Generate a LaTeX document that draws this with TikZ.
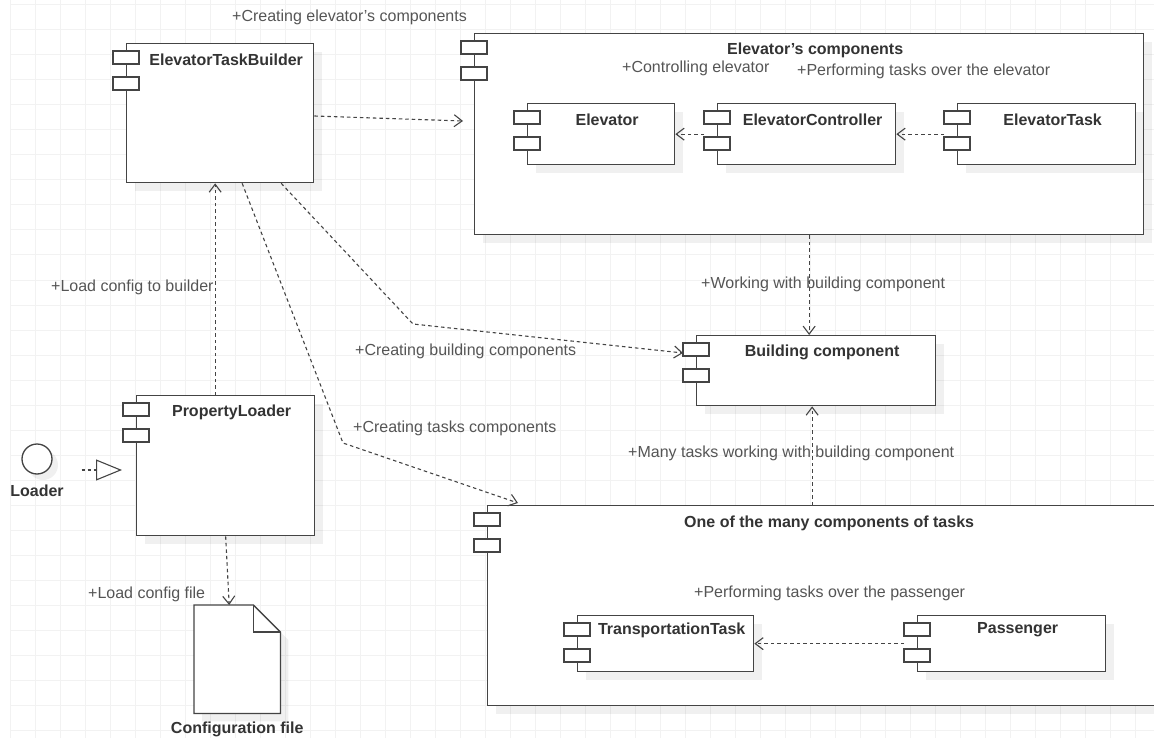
\documentclass[tikz,border=0pt]{standalone}
\usepackage{fontspec}
\setmainfont{Liberation Sans}
\usetikzlibrary{arrows.meta,calc,shadows}

\definecolor{linec}{HTML}{444444}
\definecolor{labelc}{HTML}{555555}
\definecolor{titlec}{HTML}{333333}
\definecolor{gridc}{HTML}{F2F2F2}

\tikzset{
  gridline/.style={draw=gridc, line width=1pt},
  comp/.style={draw=linec, fill=white, line width=1.3pt, anchor=north west, inner sep=0pt,
    drop shadow={shadow xshift=8pt, shadow yshift=-8pt, fill=black, opacity=0.06}},
  ttl/.style={anchor=center, yshift=-17pt, xshift=6pt, inner sep=0pt, text=titlec,
    font=\bfseries\fontsize{16}{19}\selectfont},
  tab/.style={draw=linec, fill=white, line width=1.3pt},
  dep/.style={draw=linec, line width=1.1pt, dash pattern=on 3.5pt off 3pt,
    -{Straight Barb[length=8pt,width=12pt]}},
  real/.style={draw=linec, line width=1.1pt, dash pattern=on 3pt off 3pt,
    -{Triangle[open, length=26pt, width=21pt]}},
  msg/.style={anchor=west, inner sep=0pt, text=labelc, font=\fontsize{16}{19}\selectfont},
  nametxt/.style={inner sep=0pt, text=titlec, font=\bfseries\fontsize{16}{19}\selectfont},
}

\newcommand\comptabs[1]{%
  \draw[tab] ($(#1.north west)+(-13,8)$) rectangle ++(26,13);
  \draw[tab] ($(#1.north west)+(-13,34)$) rectangle ++(26,13);
}

\begin{document}
\begin{tikzpicture}[x=1pt, y=-1pt]
  \useasboundingbox (0,0) rectangle (1154,738);

  % background grid
  \foreach \gx in {10,35,...,1154} {
    \draw[gridline] (\gx,0) -- (\gx,738);
  }
  \foreach \gy in {5,30,...,738} {
    \draw[gridline] (10,\gy) -- (1154,\gy);
  }

  % components
  \node[comp, minimum width=187pt, minimum height=139pt,
    label={[ttl]north:ElevatorTaskBuilder}] (builder) at (126,43) {};
  \comptabs{builder}

  \node[comp, minimum width=669pt, minimum height=201pt,
    label={[ttl]north:Elevator's components}] (elevcomp) at (474,33) {};
  \comptabs{elevcomp}

  \node[comp, minimum width=147pt, minimum height=61pt,
    label={[ttl]north:Elevator}] (elev) at (527,103) {};
  \comptabs{elev}
  \node[comp, minimum width=178pt, minimum height=61pt,
    label={[ttl]north:ElevatorController}] (ctrl) at (717,103) {};
  \comptabs{ctrl}
  \node[comp, minimum width=178pt, minimum height=61pt,
    label={[ttl]north:ElevatorTask}] (task) at (957,103) {};
  \comptabs{task}

  \node[comp, minimum width=239pt, minimum height=70pt,
    label={[ttl]north:Building component}] (building) at (696,335) {};
  \comptabs{building}

  \node[comp, minimum width=178pt, minimum height=140pt,
    label={[ttl]north:PropertyLoader}] (propload) at (136,395) {};
  \comptabs{propload}

  \node[comp, minimum width=671pt, minimum height=200pt,
    label={[ttl, yshift=-1pt]north:One of the many components of tasks}] (tasks) at (487,505) {};
  \comptabs{tasks}

  \node[comp, minimum width=176pt, minimum height=56pt,
    label={[ttl, yshift=2pt]north:TransportationTask}] (transport) at (577,615) {};
  \comptabs{transport}
  \node[comp, minimum width=188pt, minimum height=56pt,
    label={[ttl, yshift=2pt]north:Passenger}] (pass) at (917,615) {};
  \comptabs{pass}

  % interface and file
  \node[circle, draw=linec, fill=white, line width=1.3pt, minimum size=30pt, inner sep=0pt,
    drop shadow={shadow xshift=6pt, shadow yshift=-6pt, fill=black, opacity=0.06}] (loader) at (37,459) {};
  \node[nametxt] (loadername) at (37,491) {Loader};

  \node[inner sep=0pt, minimum width=86pt, minimum height=108pt, anchor=north west] (cfg) at (194,605) {};
  \fill[black, opacity=0.06] ($(cfg.north west)+(8,8)$) -- ($(cfg.north east)+(-19,8)$)
    -- ($(cfg.north east)+(8,35)$) -- ($(cfg.south east)+(8,8)$) -- ($(cfg.south west)+(8,8)$) -- cycle;
  \draw[draw=linec, fill=white, line width=1.3pt] (cfg.north west) -- ($(cfg.north east)+(-27,0)$)
    -- ($(cfg.north east)+(0,27)$) -- (cfg.south east) -- (cfg.south west) -- cycle;
  \draw[draw=linec, line width=1.3pt] ($(cfg.north east)+(-27,0)$) -- ($(cfg.north east)+(-27,27)$)
    -- ($(cfg.north east)+(0,27)$);
  \node[nametxt] (cfgname) at ($(cfg.south)+(0,16)$) {Configuration file};

  % connectors
  \draw[dep] ($(builder.north east)+(0,73)$) -- ($(elevcomp.north west)+(-11,88)$);
  \draw[dep] ($(ctrl.west)+(-13,0)$) -- (elev.east);
  \draw[dep] ($(task.west)+(-13,0)$) -- (ctrl.east);
  \draw[dep] (elevcomp.south) -- (elevcomp.south |- building.north);
  \coordinate (bcin) at ($(building.south)+(-4,0)$);
  \draw[dep] (bcin |- tasks.north) -- (bcin);

  \coordinate (bendb) at (413,324);
  \draw[dep] ($(builder.south)+(61,0)$) -- (bendb) -- ($(building.north west)+(-13,18)$);
  \coordinate (bendt) at (343,443);
  \draw[dep] ($(builder.south)+(22,0)$) -- (bendt) -- ($(tasks.north west)+(31,-2)$);

  \coordinate (plup) at ($(builder.south)+(-5,0)$);
  \draw[dep] (plup |- propload.north) -- (plup);
  \draw[dep] (propload.south) -- ($(cfg.north)+(-8,0)$);

  \coordinate (ldtail) at ($(loader.east)+(29,11)$);
  \draw[real] (ldtail) -- ($(propload.north west)+(-14,75)$);

  \draw[dep] ($(pass.west)+(-13,0)$) -- (transport.east);

  % connector labels
  \node[msg] at (232,17) {+Creating elevator's components};
  \node[msg] at (622,68) {+Controlling elevator};
  \node[msg] at (797,71) {+Performing tasks over the elevator};
  \node[msg] at (701,284) {+Working with building component};
  \node[msg] at (51,287) {+Load config to builder};
  \node[msg] at (355,351) {+Creating building components};
  \node[msg] at (353,428) {+Creating tasks components};
  \node[msg] at (628,453) {+Many tasks working with building component};
  \node[msg] at (88,594) {+Load config file};
  \node[msg] at (694,593) {+Performing tasks over the passenger};

\end{tikzpicture}
\end{document}
